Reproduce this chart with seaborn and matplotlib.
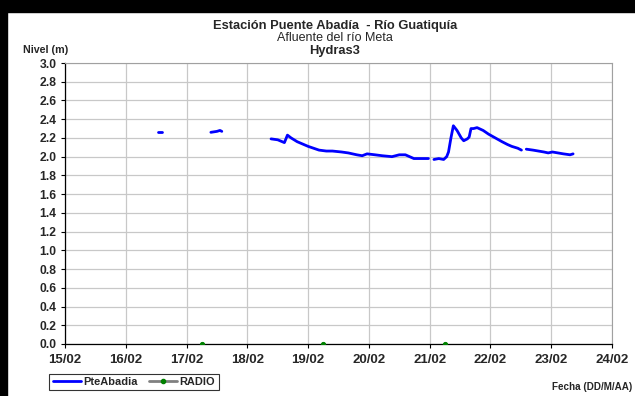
import matplotlib
matplotlib.use("Agg")
import matplotlib.pyplot as plt
import matplotlib.dates as mdates
from matplotlib.lines import Line2D
from matplotlib.patches import Rectangle
import numpy as np
import pandas as pd
import seaborn as sns

sns.set_style("white")
plt.rcParams['font.family'] = ['Liberation Sans', 'DejaVu Sans']

# level series (day of February, metres), split where the record has gaps
seg_days = [
    [16.53, 16.60],
    [17.40, 17.50, 17.55, 17.58],
    [18.39, 18.50, 18.61, 18.66, 18.72, 18.82, 19.00, 19.18, 19.30, 19.40,
     19.55, 19.66, 19.80, 19.89, 19.97, 20.10, 20.22, 20.38, 20.50, 20.60,
     20.67, 20.74, 20.85, 20.98],
    [21.07, 21.15, 21.23, 21.28, 21.31, 21.35, 21.39, 21.45, 21.52, 21.56,
     21.62, 21.65, 21.68, 21.72, 21.78, 21.88, 21.97, 22.08, 22.19, 22.28,
     22.35, 22.45, 22.51],
    [22.59, 22.70, 22.79, 22.88, 22.95, 23.02, 23.11, 23.20, 23.31, 23.36],
]
seg_level = [
    [2.26, 2.26],
    [2.26, 2.27, 2.28, 2.27],
    [2.19, 2.18, 2.15, 2.23, 2.20, 2.16, 2.11, 2.07, 2.06, 2.06,
     2.05, 2.04, 2.02, 2.01, 2.03, 2.02, 2.01, 2.00, 2.02, 2.02,
     2.00, 1.98, 1.98, 1.98],
    [1.97, 1.98, 1.97, 2.00, 2.05, 2.20, 2.33, 2.28, 2.20, 2.17,
     2.19, 2.21, 2.30, 2.30, 2.31, 2.28, 2.24, 2.20, 2.16, 2.13,
     2.11, 2.09, 2.07],
    [2.08, 2.07, 2.06, 2.05, 2.04, 2.05, 2.04, 2.03, 2.02, 2.03],
]
radio_days = [17.25, 19.25, 21.25]
radio_level = [0.0, 0.0, 0.0]

base = pd.Timestamp("2011-02-15")


def to_date(d):
    return base + pd.to_timedelta(np.asarray(d) - 15, unit="D")


rows = []
for i, (d, v) in enumerate(zip(seg_days, seg_level)):
    rows.append(pd.DataFrame({"fecha": to_date(d), "nivel": v, "seg": i}))
df = pd.concat(rows, ignore_index=True)
df_radio = pd.DataFrame({"fecha": to_date(radio_days), "nivel": radio_level,
                         "seg": range(len(radio_days))})

fig = plt.figure(figsize=(6.35, 3.96), dpi=100)
ax = fig.add_axes([65 / 635, 52 / 396, (612 - 65) / 635, (344 - 63) / 396])

sns.lineplot(data=df, x="fecha", y="nivel", units="seg", estimator=None,
             color="#0000ff", linewidth=2.0, ax=ax)
sns.lineplot(data=df_radio, x="fecha", y="nivel", units="seg", estimator=None,
             color="#808080", marker="o", markersize=3,
             markerfacecolor="#008000", markeredgecolor="#008000", ax=ax, zorder=5)

ax.set_xlim(base, base + pd.Timedelta(days=9))
ax.set_ylim(0, 3.0)
ax.xaxis.set_major_locator(mdates.DayLocator())
ax.xaxis.set_major_formatter(mdates.DateFormatter("%d/%m"))
ax.set_yticks(np.arange(0, 3.01, 0.2))
ax.yaxis.set_major_formatter(plt.FormatStrFormatter("%.1f"))
ax.set_xlabel("")
ax.set_ylabel("")
ax.grid(True, color="#c8c8c8", linewidth=0.9)
ax.set_axisbelow(True)
for s in ["top", "right"]:
    ax.spines[s].set_color("#a0a0a0")
for s in ["left", "bottom"]:
    ax.spines[s].set_color("black")
    ax.spines[s].set_linewidth(0.9)
ax.tick_params(axis="both", direction="out", length=3, width=0.8, color="black",
               pad=2, left=True, bottom=True)
ax.tick_params(axis="x", labelsize=9.5, pad=4)
ax.tick_params(axis="y", labelsize=8.7, pad=3)
for lab in ax.get_xticklabels() + ax.get_yticklabels():
    lab.set_fontweight("bold")

cx = 335 / 635
fig.text(cx, 1 - 26 / 396, "Estación Puente Abadía  - Río Guatiquía", ha="center",
         va="center", fontsize=9.3, fontweight="bold")
fig.text(cx, 1 - 38 / 396, "Afluente del río Meta", ha="center", va="center",
         fontsize=9)
fig.text(cx, 1 - 51 / 396, "Hydras3", ha="center", va="center", fontsize=9.3,
         fontweight="bold")
fig.text(46 / 635, 1 - 50 / 396, "Nivel (m)", ha="center", va="center",
         fontsize=7.7, fontweight="bold")
fig.text(632 / 635, 1 - 387 / 396, "Fecha (DD/M/AA)", ha="right", va="center",
         fontsize=7.1, fontweight="bold")

handles = [
    Line2D([], [], color="#0000ff", linewidth=2.0),
    Line2D([], [], color="#808080", linewidth=2.0, marker="o", markersize=3,
           markerfacecolor="#008000", markeredgecolor="#008000"),
]
leg = fig.legend(handles, ["PteAbadia", "RADIO"], ncol=2, loc="center",
                 bbox_to_anchor=(134 / 635, 1 - 382 / 396), frameon=True,
                 fancybox=False, fontsize=7.9, handlelength=2.6,
                 handletextpad=0.2, columnspacing=1.0, borderpad=0.3)
leg.get_frame().set_edgecolor("black")
leg.get_frame().set_linewidth(0.8)
for t in leg.get_texts():
    t.set_fontweight("bold")

# black frame pieces at top and left edge
fig.patches.append(Rectangle((0, 1 - 12 / 396), 1, 12 / 396, transform=fig.transFigure,
                             color="black", zorder=10))
fig.patches.append(Rectangle((0, 0), 7 / 635, 1, transform=fig.transFigure,
                             color="black", zorder=10))

fig.savefig("out.png", dpi=100)
